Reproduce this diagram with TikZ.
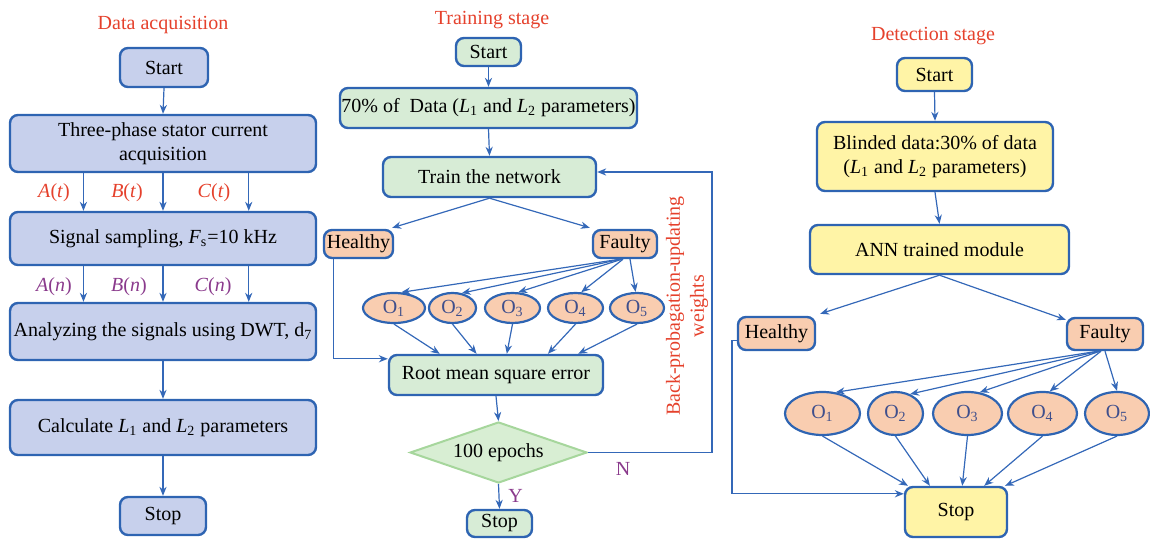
\documentclass[tikz,border=0pt]{standalone}
\usepackage{fontspec}
\setmainfont{Liberation Serif}
\usetikzlibrary{arrows.meta,shapes.geometric,calc}
\definecolor{bordblue}{HTML}{2E64B2}
\definecolor{arrblue}{HTML}{3468B8}
\definecolor{fillblue}{HTML}{C7D0EC}
\definecolor{fillgreen}{HTML}{D7ECD6}
\definecolor{fillyel}{HTML}{FFF4A6}
\definecolor{fillpeach}{HTML}{F9CDB0}
\definecolor{diafill}{HTML}{D8EED3}
\definecolor{diaedge}{HTML}{A6D69C}
\definecolor{titlered}{HTML}{E5412C}
\definecolor{labpurple}{HTML}{8A3A8C}
\definecolor{otext}{HTML}{3F4F8C}
\begin{document}
\begin{tikzpicture}[x=0.5pt,y=-0.5pt,
 box/.style={draw=bordblue,line width=1.2pt,rounded corners=4pt,inner sep=0pt,align=center},
 bbox/.style={box,fill=fillblue},
 gbox/.style={box,fill=fillgreen},
 ybox/.style={box,fill=fillyel},
 pbox/.style={box,fill=fillpeach},
 oval/.style={ellipse,draw=bordblue,line width=1.1pt,fill=fillpeach,inner sep=0pt,text=otext},
 arr/.style={draw=arrblue,line width=0.6pt,-{Stealth[length=4.5pt,width=3.6pt]}},
 ttl/.style={text=titlered},
 redlab/.style={text=titlered},
 purlab/.style={text=labpurple}
]
\useasboundingbox (0,0) rectangle (1150,539);

% ---------------- Data acquisition ----------------
\node[ttl] (t1) at (163,25) {Data acquisition};
\node[bbox,minimum width=44pt,minimum height=19.5pt] (s1) at (164,67.5) {Start};
\node[bbox,minimum width=153pt,minimum height=28.5pt] (a1) at (163,143.5) {Three-phase stator current\\acquisition};
\node[bbox,minimum width=153pt,minimum height=26.5pt] (a2) at (163,238.5) {Signal sampling, \textit{F}\textsubscript{s}=10 kHz};
\node[bbox,minimum width=153pt,minimum height=28.5pt] (a3) at (163,331.5) {Analyzing the signals using DWT, d\textsubscript{7}};
\node[bbox,minimum width=153pt,minimum height=27.5pt] (a4) at (163,427.5) {Calculate \textit{L}\textsubscript{1} and \textit{L}\textsubscript{2} parameters};
\node[bbox,minimum width=43pt,minimum height=19pt] (a5) at (163,516) {Stop};

\draw[arr] (s1.south) -- (a1.north);
\foreach \f in {0.242,0.5,0.778}{
  \draw[arr] ($(a1.south west)!\f!(a1.south east)$) -- ($(a2.north west)!\f!(a2.north east)$);
  \draw[arr] ($(a2.south west)!\f!(a2.south east)$) -- ($(a3.north west)!\f!(a3.north east)$);
}
\draw[arr] (a3.south) -- (a4.north);
\draw[arr] (a4.south) -- (a5.north);
\node[redlab] (la) at (54,193) {\textit{A}(\textit{t})};
\node[redlab] (lb) at (127,193) {\textit{B}(\textit{t})};
\node[redlab] (lc) at (214,193) {\textit{C}(\textit{t})};
\node[purlab] (na) at (54,287) {\textit{A}(\textit{n})};
\node[purlab] (nb) at (129,287) {\textit{B}(\textit{n})};
\node[purlab] (nc) at (213,287) {\textit{C}(\textit{n})};

% ---------------- Training stage ----------------
\node[ttl] (t2) at (492,20) {Training stage};
\node[gbox,minimum width=32.5pt,minimum height=14pt] (s2) at (488.5,52) {Start};
\node[gbox,minimum width=148.5pt,minimum height=20pt] (d2) at (488.5,108) {70\% of\ \ Data (\textit{L}\textsubscript{1} and \textit{L}\textsubscript{2} parameters)};
\node[gbox,minimum width=106.5pt,minimum height=20pt] (tr) at (489.5,177) {Train the network};
\node[pbox,minimum width=34.5pt,minimum height=14pt] (h2) at (358.5,244) {Healthy};
\node[pbox,minimum width=32pt,minimum height=14pt] (f2) at (625,244) {Faulty};
\node[oval,minimum width=31pt,minimum height=15pt] (m1) at (394,308) {O\textsubscript{1}};
\node[oval,minimum width=23.5pt,minimum height=15pt] (m2) at (452.5,308) {O\textsubscript{2}};
\node[oval,minimum width=27.5pt,minimum height=15pt] (m3) at (512.5,308) {O\textsubscript{3}};
\node[oval,minimum width=27.5pt,minimum height=15pt] (m4) at (575.5,308) {O\textsubscript{4}};
\node[oval,minimum width=27pt,minimum height=15pt] (m5) at (637,308) {O\textsubscript{5}};
\node[gbox,minimum width=107pt,minimum height=20pt] (rm) at (496,375) {Root mean square error};
\node[diamond,aspect=2.9,draw=diaedge,fill=diafill,line width=1pt,inner sep=0pt,minimum width=88.5pt,minimum height=30.5pt] (dm) at (498.5,452.5) {100 epochs};
\node[gbox,minimum width=32.5pt,minimum height=13.5pt] (st2) at (499.5,523.5) {Stop};
\node[rotate=90,align=center,text=titlered] (bp) at (687,306) {Back-probagation-updating\\weights};
\coordinate (fb) at (712,300);

\draw[arr] (s2.south) -- (d2.north);
\draw[arr] (d2.south) -- (tr.north);
\draw[arr] (tr.south) -- ($(h2.north east)+(-2,-1)$);
\draw[arr] (tr.south) -- ($(f2.north west)+(-2,-1)$);
\draw[arr] ($(f2.south)+(-5,0)$) -- (m1.65);
\draw[arr] ($(f2.south)+(-4,0)$) -- (m2.58);
\draw[arr] ($(f2.south)+(-3,0)$) -- (m3.70);
\draw[arr] ($(f2.south)+(-2,0)$) -- (m4.70);
\draw[arr] ($(f2.south)+(5,0)$) -- (m5.95);
\draw[arr] (m1.south) -- ($(rm.north west)!0.24!(rm.north east)$);
\draw[arr] (m2.south) -- ($(rm.north west)!0.41!(rm.north east)$);
\draw[arr] (m3.south) -- ($(rm.north west)!0.55!(rm.north east)$);
\draw[arr] (m4.south) -- ($(rm.north west)!0.74!(rm.north east)$);
\draw[arr] (m5.south) -- ($(rm.north west)!0.88!(rm.north east)$);
\draw[arr] ($(h2.south west)+(11,0)$) |- ($(rm.north west)+(0,5)$);
\draw[arr] (rm.south) -- (dm.north);
\draw[arr] (dm.south) -- node[purlab,right,pos=0.5,xshift=1pt] (ly) {Y} (st2.north);
\draw[arr] (dm.east) -| (fb) |- ($(tr.east)+(0,-5)$);
\node[purlab] (ln) at (623,469) {N};

% ---------------- Detection stage ----------------
\node[ttl] (t3) at (933,36) {Detection stage};
\node[ybox,minimum width=37.5pt,minimum height=16.5pt] (s3) at (934.5,74.5) {Start};
\node[ybox,minimum width=118pt,minimum height=34.5pt] (b3) at (935,156.5) {Blinded data:30\% of data\\(\textit{L}\textsubscript{1} and \textit{L}\textsubscript{2} parameters)};
\node[ybox,minimum width=129.5pt,minimum height=24.5pt] (ann) at (939.5,249.5) {ANN trained module};
\node[pbox,minimum width=38.5pt,minimum height=16.5pt] (h3) at (776.5,333.5) {Healthy};
\node[pbox,minimum width=38pt,minimum height=16pt] (f3) at (1105,334) {Faulty};
\node[oval,minimum width=37.5pt,minimum height=21.5pt] (r1) at (822.5,413.5) {O\textsubscript{1}};
\node[oval,minimum width=27.5pt,minimum height=21.5pt] (r2) at (895.5,413.5) {O\textsubscript{2}};
\node[oval,minimum width=34.5pt,minimum height=21.5pt] (r3) at (967.5,413.5) {O\textsubscript{3}};
\node[oval,minimum width=34.5pt,minimum height=21.5pt] (r4) at (1042.5,413.5) {O\textsubscript{4}};
\node[oval,minimum width=32pt,minimum height=21.5pt] (r5) at (1117,413.5) {O\textsubscript{5}};
\node[ybox,minimum width=51pt,minimum height=25pt] (st3) at (956,512) {Stop};
\coordinate (hl) at (732,420);

\draw[arr] (s3.south) -- (b3.north);
\draw[arr] (b3.south) -- (ann.north);
\draw[arr] (ann.south) -- ($(h3.north east)+(4,-2)$);
\draw[arr] (ann.south) -- ($(f3.north west)+(0,3)$);
\draw[arr] ($(f3.south)+(-7,0)$) -- (r1.58);
\draw[arr] ($(f3.south)+(-6,0)$) -- (r2.53);
\draw[arr] ($(f3.south)+(-5,0)$) -- (r3.60);
\draw[arr] ($(f3.south)+(-4,0)$) -- (r4.72);
\draw[arr] ($(f3.south)+(0,0)$) -- (r5.90);
\draw[arr] (r1.south) -- ($(st3.north west)!0.04!(st3.north east)$);
\draw[arr] (r2.south) -- ($(st3.north west)!0.25!(st3.north east)$);
\draw[arr] (r3.south) -- ($(st3.north west)!0.56!(st3.north east)$);
\draw[arr] (r4.south) -- ($(st3.north west)!0.77!(st3.north east)$);
\draw[arr] (r5.south) -- ($(st3.north west)!0.97!(st3.north east)$);
\draw[arr] ($(h3.west)+(0,7)$) -| (hl) |- ($(st3.north west)+(0,8)$);
\end{tikzpicture}
\end{document}
